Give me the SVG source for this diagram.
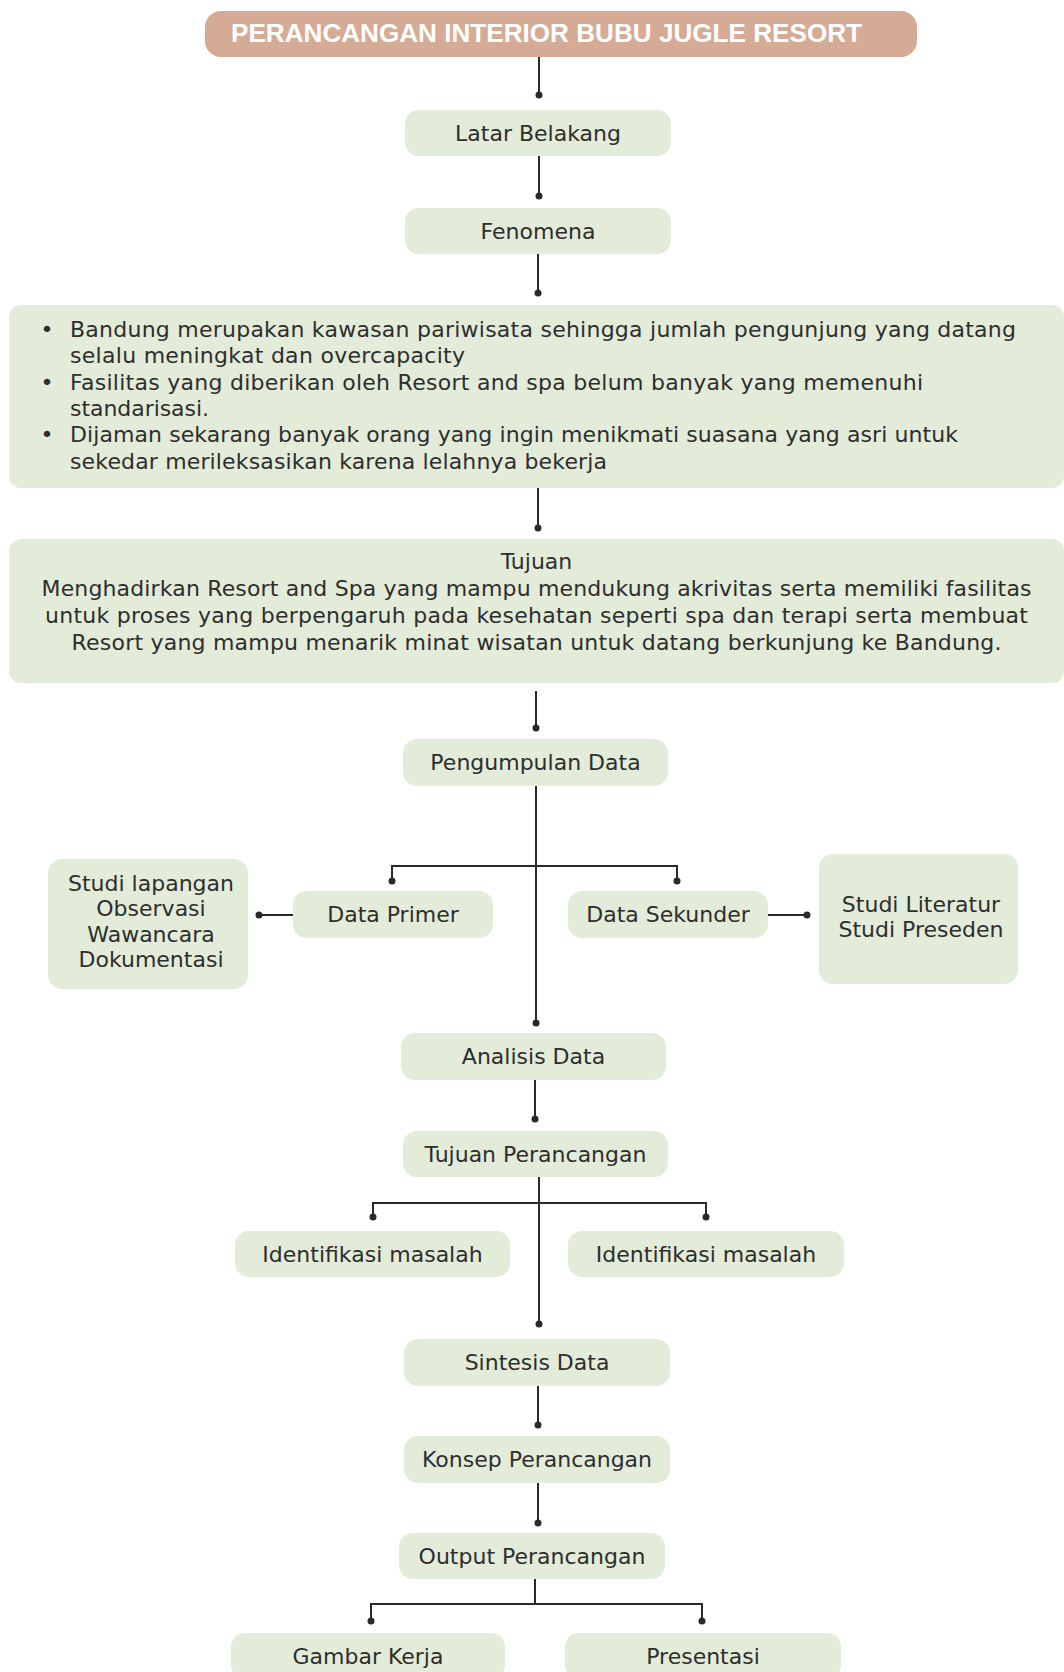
<svg xmlns="http://www.w3.org/2000/svg" width="1064" height="1672" viewBox="0 0 1064 1672">
<style>
.bx{fill:#e2ecd8}
.tt{fill:#d5ab96}
.t{font-family:"DejaVu Sans",sans-serif;font-size:22px;fill:#2e2e2e}
.c{text-anchor:middle}
.ttl{font-family:"Liberation Sans",Arial,sans-serif;font-weight:bold;font-size:26px;fill:#ffffff}
.ln{stroke:#2a2a2a;stroke-width:2;fill:none}
.dt{fill:#2a2a2a}
</style>
<rect width="1064" height="1672" fill="#ffffff"/>
<g id="connectors">
<path class="ln" d="M539 57V95M539 156V196M538 254V293M538 488V528M536 691V728M536 786V1023M392 881V866H677V881M293 915H259M768 915H807M535 1080V1119M539 1177V1324M373 1217V1203H706V1217M538 1386V1425M538 1483V1523M535 1579V1604M371 1621V1604H702V1621"/>
<g class="dt">
<circle cx="539" cy="95" r="3.5"/><circle cx="539" cy="196" r="3.5"/><circle cx="538" cy="293" r="3.5"/><circle cx="538" cy="528" r="3.5"/><circle cx="536" cy="728" r="3.5"/><circle cx="536" cy="1023" r="3.5"/><circle cx="392" cy="881" r="3.5"/><circle cx="677" cy="881" r="3.5"/><circle cx="259" cy="915" r="3.5"/><circle cx="807" cy="915" r="3.5"/><circle cx="535" cy="1119" r="3.5"/><circle cx="539" cy="1324" r="3.5"/><circle cx="373" cy="1217" r="3.5"/><circle cx="706" cy="1217" r="3.5"/><circle cx="538" cy="1425" r="3.5"/><circle cx="538" cy="1523" r="3.5"/><circle cx="371" cy="1621" r="3.5"/><circle cx="702" cy="1621" r="3.5"/>
</g>
</g>
<g id="title"><rect class="tt" x="205" y="11" width="712" height="46" rx="16"/><text class="ttl" x="231" y="42" textLength="631" lengthAdjust="spacingAndGlyphs">PERANCANGAN INTERIOR BUBU JUGLE RESORT</text></g>
<g id="latar"><rect class="bx" x="405" y="110" width="266" height="46" rx="14"/><text class="t c" x="538" y="141">Latar Belakang</text></g>
<g id="fenomena"><rect class="bx" x="405" y="208" width="266" height="46" rx="14"/><text class="t c" x="538" y="239">Fenomena</text></g>
<g id="fenomena-list"><rect class="bx" x="9" y="305" width="1055" height="183" rx="12"/>
<text class="t c" x="47" y="337">•</text><text class="t c" x="47" y="389.6">•</text><text class="t c" x="47" y="442.2">•</text>
<text class="t" x="70" y="337" textLength="946">Bandung merupakan kawasan pariwisata sehingga jumlah pengunjung yang datang</text>
<text class="t" x="70" y="363.3" textLength="395">selalu meningkat dan overcapacity</text>
<text class="t" x="70" y="389.6" textLength="853">Fasilitas yang diberikan oleh Resort and spa belum banyak yang memenuhi</text>
<text class="t" x="70" y="415.9" textLength="139">standarisasi.</text>
<text class="t" x="70" y="442.2" textLength="888">Dijaman sekarang banyak orang yang ingin menikmati suasana yang asri untuk</text>
<text class="t" x="70" y="468.5" textLength="537">sekedar merileksasikan karena lelahnya bekerja</text>
</g>
<g id="tujuan"><rect class="bx" x="9" y="539" width="1055" height="144" rx="12"/>
<text class="t c" x="536.5" y="569">Tujuan</text>
<text class="t c" x="536.5" y="596" textLength="990">Menghadirkan Resort and Spa yang mampu mendukung akrivitas serta memiliki fasilitas</text>
<text class="t c" x="536.5" y="623" textLength="983">untuk proses yang berpengaruh pada kesehatan seperti spa dan terapi serta membuat</text>
<text class="t c" x="536.5" y="650" textLength="930">Resort yang mampu menarik minat wisatan untuk datang berkunjung ke Bandung.</text>
</g>
<g id="pengumpulan"><rect class="bx" x="403" y="739" width="265" height="47" rx="14"/><text class="t c" x="535.5" y="770">Pengumpulan Data</text></g>
<g id="studi-lapangan"><rect class="bx" x="48" y="859" width="200" height="130" rx="14"/>
<text class="t c" x="151" y="891">Studi lapangan</text><text class="t c" x="151" y="916">Observasi</text><text class="t c" x="151" y="942">Wawancara</text><text class="t c" x="151" y="967">Dokumentasi</text></g>
<g id="data-primer"><rect class="bx" x="293" y="891" width="200" height="47" rx="14"/><text class="t c" x="393" y="922">Data Primer</text></g>
<g id="data-sekunder"><rect class="bx" x="568" y="891" width="200" height="47" rx="14"/><text class="t c" x="668" y="922">Data Sekunder</text></g>
<g id="studi-literatur"><rect class="bx" x="819" y="854" width="199" height="130" rx="14"/>
<text class="t c" x="921" y="912">Studi Literatur</text><text class="t c" x="921" y="937">Studi Preseden</text></g>
<g id="analisis"><rect class="bx" x="401" y="1033" width="265" height="47" rx="14"/><text class="t c" x="533.5" y="1064">Analisis Data</text></g>
<g id="tujuan-perancangan"><rect class="bx" x="403" y="1131" width="265" height="46" rx="14"/><text class="t c" x="535.5" y="1162">Tujuan Perancangan</text></g>
<g id="identifikasi-1"><rect class="bx" x="235" y="1231" width="275" height="46" rx="14"/><text class="t c" x="372.5" y="1262">Identifikasi masalah</text></g>
<g id="identifikasi-2"><rect class="bx" x="568" y="1231" width="276" height="46" rx="14"/><text class="t c" x="706" y="1262">Identifikasi masalah</text></g>
<g id="sintesis"><rect class="bx" x="404" y="1339" width="266" height="47" rx="14"/><text class="t c" x="537" y="1370">Sintesis Data</text></g>
<g id="konsep"><rect class="bx" x="404" y="1436" width="266" height="47" rx="14"/><text class="t c" x="537" y="1467">Konsep Perancangan</text></g>
<g id="output"><rect class="bx" x="399" y="1533" width="266" height="46" rx="14"/><text class="t c" x="532" y="1564">Output Perancangan</text></g>
<g id="gambar-kerja"><rect class="bx" x="231" y="1633" width="274" height="46" rx="14"/><text class="t c" x="368" y="1664">Gambar Kerja</text></g>
<g id="presentasi"><rect class="bx" x="565" y="1633" width="276" height="46" rx="14"/><text class="t c" x="703" y="1664">Presentasi</text></g>
</svg>
